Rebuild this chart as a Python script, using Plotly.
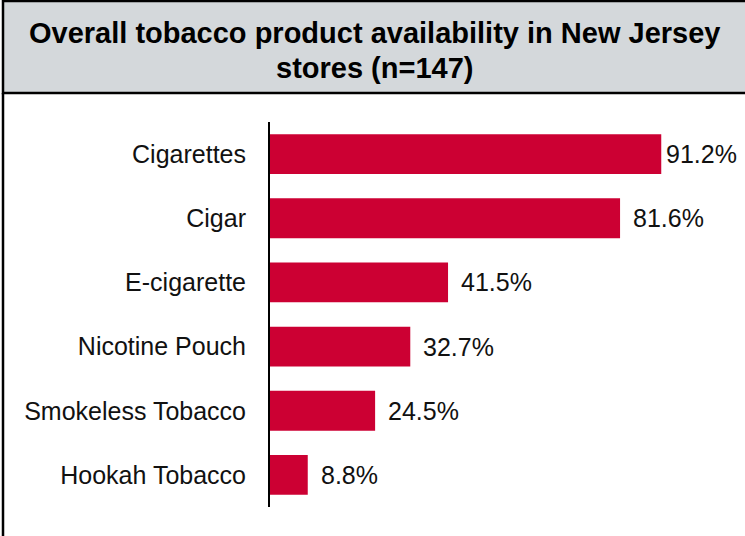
import plotly.graph_objects as go

categories = ["Cigarettes", "Cigar", "E-cigarette", "Nicotine Pouch", "Smokeless Tobacco", "Hookah Tobacco"]
values = [91.2, 81.6, 41.5, 32.7, 24.5, 8.8]
title_lines = ["Overall tobacco product availability in New Jersey", "stores (n=147)"]
title_centers_y = [33, 68]

W, H = 745, 536
L, R, T, B = 270, 46, 122, 29
PW, PH = W - L - R, H - T - B

def px(x):
    return (x - L) / PW

def py(y):
    return (H - B - y) / PH

BAR = "#cc0033"
FONT = "Liberation Sans, Arial, sans-serif"
LABEL_W = 73      # approximate pixel width of a value label
RIGHT_LIMIT = 737  # labels must end before this x

fig = go.Figure()
fig.add_trace(go.Bar(
    y=categories, x=values, orientation="h",
    marker=dict(color=BAR, line=dict(width=0)),
    hoverinfo="skip",
))

annotations = []
for c, v in zip(categories, values):
    bar_end = L + v / 100 * PW
    shift = min(11, RIGHT_LIMIT - LABEL_W - bar_end)
    annotations.append(dict(
        x=v, y=c, xref="x", yref="y", text=f"{v:.1f}%",
        showarrow=False, xanchor="left", xshift=shift,
        font=dict(family=FONT, size=25, color="#111111"),
    ))

for line, yc in zip(title_lines, title_centers_y):
    annotations.append(dict(
        x=px(374), y=py(yc), xref="paper", yref="paper",
        text="<b>" + line + "</b>",
        showarrow=False, xanchor="center", yanchor="middle",
        font=dict(family=FONT, size=29, color="#000000"),
    ))

shapes = [
    dict(type="rect", xref="paper", yref="paper",
         x0=px(3), x1=px(760), y0=py(93), y1=py(1),
         fillcolor="#d4d8db", line=dict(color="#000000", width=2.5), layer="below"),
    dict(type="line", xref="paper", yref="paper",
         x0=px(3), x1=px(3), y0=py(93), y1=py(540),
         line=dict(color="#000000", width=2.5)),
]

fig.update_layout(
    width=W, height=H,
    margin=dict(l=L, r=R, t=T, b=B),
    paper_bgcolor="white", plot_bgcolor="white",
    bargap=0.38,
    showlegend=False,
    annotations=annotations,
    shapes=shapes,
    xaxis=dict(range=[0, 100], visible=False, fixedrange=True),
    yaxis=dict(
        autorange="reversed", showline=True, linecolor="#000000", linewidth=2,
        ticks="", ticklabelstandoff=17, showgrid=False, zeroline=False,
        fixedrange=True,
        tickfont=dict(family=FONT, size=25, color="#111111"),
    ),
)

fig.write_html(
    "out.html",
    config={"displayModeBar": False},
    post_script="document.body.style.margin='0';document.body.style.overflow='hidden';",
)
